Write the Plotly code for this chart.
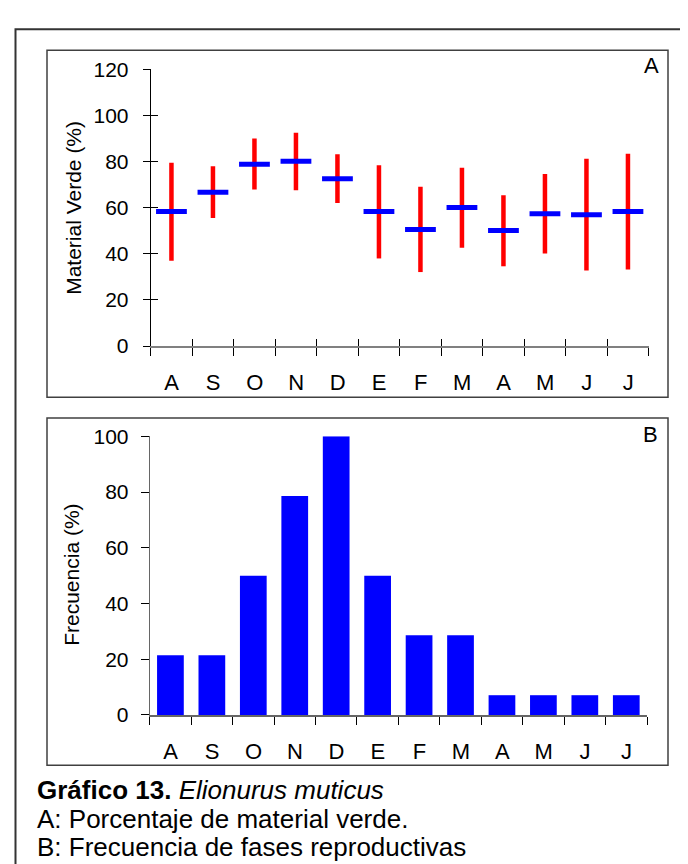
import plotly.graph_objects as go

# ---------------- data ----------------
months = ["A", "S", "O", "N", "D", "E", "F", "M", "A", "M", "J", "J"]
verde_media = [58.4, 66.7, 78.9, 80.2, 72.6, 58.4, 50.6, 60.1, 50.1, 57.4, 57.0, 58.4]
verde_max = [79.5, 78.0, 90.0, 92.5, 83.2, 78.4, 69.1, 77.3, 65.4, 74.6, 81.2, 83.4]
verde_min = [37.0, 55.5, 67.9, 67.6, 62.0, 38.0, 32.1, 42.6, 34.6, 40.2, 32.8, 33.2]
frecuencia = [21.4, 21.4, 50.0, 78.6, 100.0, 50.0, 28.6, 28.6, 7.1, 7.1, 7.1, 7.1]
yticks_a = [0, 20, 40, 60, 80, 100, 120]
yticks_b = [0, 20, 40, 60, 80, 100]

W, H = 688, 864
FONT = "Arial, Liberation Sans, sans-serif"


def fx(px):
    return px / W


def fy(py):
    return 1 - py / H


xi = list(range(len(months)))
bounds = [i - 0.5 for i in range(len(months) + 1)]
blabels = months + [""]

fig = go.Figure()

# Panel A: ranges (red) and means (blue)
fig.add_trace(go.Scatter(
    x=xi, y=verde_media, mode="markers", marker=dict(size=1, opacity=0),
    error_y=dict(type="data", symmetric=False,
                 array=[h - m for h, m in zip(verde_max, verde_media)],
                 arrayminus=[m - l for m, l in zip(verde_media, verde_min)],
                 color="#FF0000", thickness=4.5, width=0),
    xaxis="x", yaxis="y", showlegend=False, hoverinfo="skip"))
fig.add_trace(go.Scatter(
    x=xi, y=verde_media, mode="markers",
    marker=dict(symbol="line-ew", size=22, color="#0000FF",
                line=dict(width=5, color="#0000FF")),
    xaxis="x", yaxis="y", showlegend=False))
# dummy trace for overlay axes (inside ticks of panel A)
fig.add_trace(go.Scatter(x=[None], y=[None], xaxis="x3", yaxis="y3",
                         showlegend=False, hoverinfo="skip"))

# Panel B: bars
fig.add_trace(go.Bar(x=xi, y=frecuencia, marker=dict(color="#0000FF", line=dict(width=0)),
                     xaxis="x2", yaxis="y2", showlegend=False))

xdomA = [fx(142.7), fx(640.7)]
xdomB = [fx(141.7), fx(639.0)]
ydomA = [fy(335.0), fy(50.7)]
ydomB = [fy(714.0), fy(427.7)]
half_cat = 21

xtickfont = dict(family=FONT, size=22, color="#000000")
ytickfont = dict(family=FONT, size=21, color="#000000")

common_x = dict(range=[-0.5, 11.5], showgrid=False, zeroline=False, showline=True,
                tickmode="array", tickvals=bounds, ticktext=blabels,
                ticks="outside", ticklen=8, tickwidth=1, tickcolor="#000000",
                tickfont=xtickfont, ticklabelshift=half_cat, ticklabelstandoff=8,
                fixedrange=True)

fig.update_layout(
    width=W, height=H, margin=dict(l=0, r=0, t=0, b=0),
    paper_bgcolor="white", plot_bgcolor="rgba(0,0,0,0)",
    font=dict(family=FONT, color="#000000"),
    bargap=0.355,
    xaxis=dict(domain=xdomA, anchor="y", linecolor="#808080", linewidth=1.5, **common_x),
    yaxis=dict(domain=ydomA, anchor="x", range=[0, 120], tickmode="array", tickvals=yticks_a,
               showgrid=False, zeroline=False, showline=True, linecolor="#000000", linewidth=1,
               ticks="outside", ticklen=7, tickwidth=1, tickcolor="#000000",
               tickfont=ytickfont, ticklabelstandoff=10, fixedrange=True),
    xaxis3=dict(overlaying="x", anchor="y", range=[-0.5, 11.5], tickmode="array", tickvals=bounds,
                showticklabels=False, ticks="inside", ticklen=7, tickwidth=1, tickcolor="#000000",
                showgrid=False, zeroline=False, showline=False, fixedrange=True),
    yaxis3=dict(overlaying="y", anchor="x", range=[0, 120], tickmode="array", tickvals=yticks_a,
                showticklabels=False, ticks="inside", ticklen=7, tickwidth=1, tickcolor="#000000",
                showgrid=False, zeroline=False, showline=False, fixedrange=True),
    xaxis2=dict(domain=xdomB, anchor="y2", linecolor="#666666", linewidth=1.5, **common_x),
    yaxis2=dict(domain=ydomB, anchor="x2", range=[0, 100], tickmode="array", tickvals=yticks_b,
                showgrid=False, zeroline=False, showline=True, linecolor="#666666", linewidth=1,
                ticks="outside", ticklen=8, tickwidth=1, tickcolor="#000000",
                tickfont=ytickfont, ticklabelstandoff=8, fixedrange=True),
)

# frames
shapes = [
    dict(type="rect", xref="paper", yref="paper", x0=fx(7.5), x1=fx(720), y0=fy(900), y1=fy(9.5),
         line=dict(color="#333333", width=2), fillcolor="rgba(0,0,0,0)", layer="below"),
    dict(type="rect", xref="paper", yref="paper", x0=fx(39), x1=fx(660), y0=fy(387.5), y1=fy(31),
         line=dict(color="#404040", width=1.5), fillcolor="rgba(0,0,0,0)", layer="below"),
    dict(type="rect", xref="paper", yref="paper", x0=fx(39), x1=fx(660), y0=fy(765.7), y1=fy(409),
         line=dict(color="#404040", width=1.5), fillcolor="rgba(0,0,0,0)", layer="below"),
]
fig.update_layout(shapes=shapes)

title_font = dict(family=FONT, size=21, color="#000000")
panel_font = dict(family=FONT, size=22, color="#000000")
cap = dict(family=FONT, size=26, color="#000000")
annotations = [
    dict(text="Material Verde (%)", x=fx(66), y=fy(193), xref="paper", yref="paper",
         textangle=-90, showarrow=False, font=title_font, xanchor="center", yanchor="middle"),
    dict(text="Frecuencia (%)", x=fx(64), y=fy(570), xref="paper", yref="paper",
         textangle=-90, showarrow=False, font=title_font, xanchor="center", yanchor="middle"),
    dict(text="A", x=fx(653), y=fy(47), xref="paper", yref="paper", showarrow=False,
         font=panel_font, xanchor="right", yanchor="middle"),
    dict(text="B", x=fx(652), y=fy(426), xref="paper", yref="paper", showarrow=False,
         font=panel_font, xanchor="right", yanchor="middle"),
    dict(text="<b>Gráfico 13.</b> <i>Elionurus muticus</i>", x=fx(27), y=fy(791.2),
         xref="paper", yref="paper", showarrow=False, font=cap, xanchor="left", yanchor="middle"),
    dict(text="A: Porcentaje de material verde.", x=fx(27), y=fy(820.5),
         xref="paper", yref="paper", showarrow=False, font=cap, xanchor="left", yanchor="middle"),
    dict(text="B: Frecuencia de fases reproductivas", x=fx(27), y=fy(849.3),
         xref="paper", yref="paper", showarrow=False, font=cap, xanchor="left", yanchor="middle"),
]
fig.update_layout(annotations=annotations)

fig.write_html("out.html")
